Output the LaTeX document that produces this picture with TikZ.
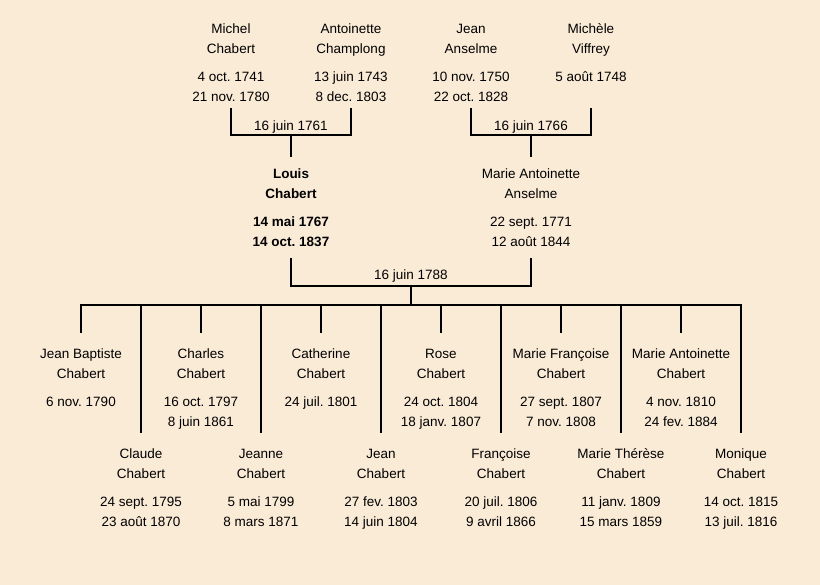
\documentclass[tikz,border=0pt]{standalone}
\usepackage{fontspec}
\setmainfont{Liberation Sans}
\frenchspacing
\definecolor{parchment}{HTML}{FAEBD7}
\tikzset{
  person/.style={align=center, anchor=north, inner sep=0pt, font=\fontsize{13.5}{20}\selectfont},
  wedding/.style={anchor=base, inner sep=0pt, font=\fontsize{13.5}{20}\selectfont},
  branch/.style={line width=2pt},
}
\newcommand{\lift}{\rule{0pt}{11pt}}
\newcommand{\dates}{\\[8pt]}

\begin{document}
\begin{tikzpicture}[x=1pt,y=-1pt]
				%%%%% START %%%%%
				\fill[parchment] (0,0) rectangle (820,585);
				\useasboundingbox (0,0) rectangle (820,585);
				
				\node[person] (michel) at (231,22) {\lift Michel\\Chabert\dates 4 oct. 1741\\21 nov. 1780};
				\node[person] (antoinette) at (351,22) {\lift Antoinette\\Champlong\dates 13 juin 1743\\8 dec. 1803};
				\node[person] (jean) at (471,22) {\lift Jean\\Anselme\dates 10 nov. 1750\\22 oct. 1828};
				\node[person] (michele) at (591,22) {\lift Michèle\\Viffrey\dates 5 août 1748};
				
				\node[person, font=\fontsize{13.5}{20}\selectfont\bfseries] (louis) at (291,167) {\lift Louis\\Chabert\dates 14 mai 1767\\14 oct. 1837};
				\node[person] (marie) at (531,167) {\lift Marie Antoinette\\Anselme\dates 22 sept. 1771\\12 août 1844};
				
				\node[wedding] (wed1761) at (291,131) {16 juin 1761};
				\node[wedding] (wed1766) at (531,131) {16 juin 1766};
				\node[wedding] (wed1788) at (411,280) {16 juin 1788};
				
				\coordinate (bar1) at (291,135);
				\coordinate (bar2) at (531,135);
				\coordinate (bar3) at (411,286);
				\coordinate (kids) at (411,305);
				\coordinate (top1) at (0,108);
				\coordinate (top2) at (0,157);
				\coordinate (top3) at (0,258);
				\coordinate (short) at (0,333);
				\coordinate (long) at (0,433);
				
				\draw[branch] (michel |- top1) |- (bar1) -| (antoinette |- top1);
				\draw[branch] (bar1) -- (louis |- top2);
				\draw[branch] (jean |- top1) |- (bar2) -| (michele |- top1);
				\draw[branch] (bar2) -- (marie |- top2);
				\draw[branch] (louis |- top3) |- (bar3) -| (marie |- top3);
				\draw[branch] (bar3) -- (kids);
				
				\node[person] (jeanbaptiste) at (81,347) {\lift Jean Baptiste\\Chabert\dates 6 nov. 1790};
				\node[person] (charles) at (201,347) {\lift Charles\\Chabert\dates 16 oct. 1797\\8 juin 1861};
				\node[person] (catherine) at (321,347) {\lift Catherine\\Chabert\dates 24 juil. 1801};
				\node[person] (rose) at (441,347) {\lift Rose\\Chabert\dates 24 oct. 1804\\18 janv. 1807};
				\node[person] (mariefrancoise) at (561,347) {\lift Marie Françoise\\Chabert\dates 27 sept. 1807\\7 nov. 1808};
				\node[person] (marieantoinette) at (681,347) {\lift Marie Antoinette\\Chabert\dates 4 nov. 1810\\24 fev. 1884};
				
				\node[person] (claude) at (141,447) {\lift Claude\\Chabert\dates 24 sept. 1795\\23 août 1870};
				\node[person] (jeanne) at (261,447) {\lift Jeanne\\Chabert\dates 5 mai 1799\\8 mars 1871};
				\node[person] (jeanfils) at (381,447) {\lift Jean\\Chabert\dates 27 fev. 1803\\14 juin 1804};
				\node[person] (francoise) at (501,447) {\lift Françoise\\Chabert\dates 20 juil. 1806\\9 avril 1866};
				\node[person] (marietherese) at (621,447) {\lift Marie Thérèse\\Chabert\dates 11 janv. 1809\\15 mars 1859};
				\node[person] (monique) at (741,447) {\lift Monique\\Chabert\dates 14 oct. 1815\\13 juil. 1816};
				
				\draw[branch] (jeanbaptiste |- short) |- (kids) -| (monique |- long);
				\draw[branch] (charles |- short) -- (charles |- kids);
				\draw[branch] (catherine |- short) -- (catherine |- kids);
				\draw[branch] (rose |- short) -- (rose |- kids);
				\draw[branch] (mariefrancoise |- short) -- (mariefrancoise |- kids);
				\draw[branch] (marieantoinette |- short) -- (marieantoinette |- kids);
				\draw[branch] (claude |- long) -- (claude |- kids);
				\draw[branch] (jeanne |- long) -- (jeanne |- kids);
				\draw[branch] (jeanfils |- long) -- (jeanfils |- kids);
				\draw[branch] (francoise |- long) -- (francoise |- kids);
				\draw[branch] (marietherese |- long) -- (marietherese |- kids);
				%%%%% END %%%%%
\end{tikzpicture}
\end{document}
